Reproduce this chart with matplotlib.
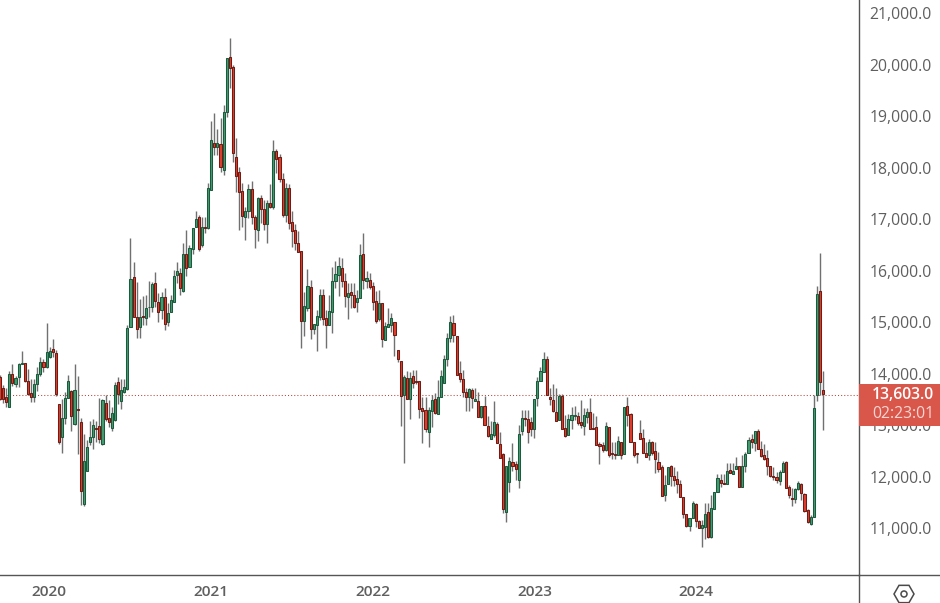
import numpy as np
import matplotlib
matplotlib.use('Agg')
from matplotlib import pyplot as plt
from matplotlib.patches import Rectangle, RegularPolygon, Circle
from matplotlib.transforms import offset_copy

opens = [13932,13718,13544,13363,13990,13796,13945,14190,14203,13854,
         13634,13557,13796,14003,14223,14139,14320,14475,14397,13408,
         12780,13136,13537,13660,13020,13317,13059,11481,12121,12684,
         12780,12949,12981,12645,13427,13136,12955,13097,13835,13479,
         13641,13699,14915,15885,15109,14902,15115,15076,15290,15303,
         15755,15387,15238,15484,15012,15206,15400,15910,15949,15613,
         16318,16079,16415,16842,17036,16505,16842,16822,17572,18484,
         18394,18465,17947,19086,20140,19946,18213,17922,17553,17036,
         17165,17579,17036,16783,17404,17191,16900,17307,17230,18316,
         18200,17786,17087,17598,16939,16783,16531,16376,15018,15283,
         15678,14863,14940,15109,15522,15076,14953,15206,15807,15923,
         16046,15807,15484,15581,15522,15400,15477,16318,15807,15826,
         15697,15406,15057,15367,14662,14902,14953,14999,14455,14242,
         13595,13919,13505,13951,13854,13854,13330,13291,12878,13285,
         13505,13227,13544,13828,14294,14688,14979,14727,14009,13893,
         13641,13544,13679,13479,13466,13156,13376,12981,12735,12813,
         13020,12645,12438,11325,11907,12283,12244,11933,12897,13149,
         13130,13072,12923,13524,13854,14029,14281,13557,13498,13266,
         13104,13563,12942,12813,13098,13190,13175,13059,12994,13156,
         13253,12942,12962,12632,12612,12522,12962,12457,12451,12431,
         12671,12451,13369,13214,12671,12457,12845,12748,12470,12425,
         12671,12496,12283,12186,11642,11856,12205,12011,11953,11856,
         11604,11274,11041,11196,11468,11151,11015,11035,11313,10828,
         11371,11714,11933,11882,11869,12127,12063,12147,12212,11811,
         12205,12457,12729,12651,12884,12535,12418,12360,12205,12018,
         12005,11927,12102,12283,11811,11584,11578,11759,11869,11675,
         11351,11093,11216,13590,15607,13680]

closes = [13505,13505,13460,13990,13815,13912,14184,14203,13867,13602,
          13557,13796,13990,14223,14139,14417,14436,14417,13615,12684,
          13136,13531,13854,13188,13680,13305,11733,12302,12574,12768,
          13000,12936,12742,13485,13130,13059,13233,13776,13615,13680,
          13751,14882,15833,15109,14876,15109,15109,15270,15296,15742,
          15419,15193,15484,14973,15173,15426,15891,15988,15671,16318,
          16059,16434,16822,16997,16428,16855,16835,17598,18529,18394,
          18484,18018,19073,20120,19926,18277,17844,17521,17068,17165,
          17579,17036,16816,17404,17191,16900,17307,17243,18316,18174,
          17773,17087,17598,16919,16777,16531,16370,15031,15309,15697,
          14876,14960,15115,15522,15057,14953,15212,15801,15930,16085,
          15807,15503,15561,15522,15303,15464,16298,15826,15852,15678,
          15400,15031,15367,14669,14921,14960,15076,14759,14281,13563,
          13932,13505,13925,13828,13847,13324,13285,12929,13291,13492,
          13246,13544,13951,14281,14688,14999,14759,13983,13906,13654,
          13544,13699,13524,13505,13169,13376,13013,12787,12826,13059,
          12664,12373,11371,12212,12302,12218,12147,12826,13136,13117,
          12865,12923,13505,13854,14048,14281,13583,13505,13285,13091,
          13576,12936,12800,13117,13194,13194,13052,13013,13194,13253,
          12936,12936,12625,12606,12528,12981,12431,12438,12431,12690,
          12431,13356,13207,12684,12431,12451,12742,12470,12392,12671,
          12457,12341,12147,11623,11843,12186,12018,11933,11869,11604,
          11274,11041,11196,11487,11138,11002,11060,11274,10828,11390,
          11701,11972,11888,11869,12108,12082,12108,12212,11811,12212,
          12444,12709,12671,12884,12535,12399,12341,12218,12011,12005,
          11946,12089,12263,11791,11655,11578,11759,11875,11681,11332,
          11119,11216,13331,15542,13847,13603]

highs = [13980,13783,13718,14060,14200,13958,14203,14443,14203,14093,
         13900,13900,14139,14333,14287,14992,14520,14675,14462,13408,
         13511,13654,13977,13686,14190,13958,13149,12826,12716,13085,
         13123,13085,13531,13505,13589,13492,13350,13835,13932,13900,
         13900,14940,16641,16169,15781,15458,15510,15529,15800,15788,
         15975,15561,15594,15658,15367,15529,16014,16169,16046,16544,
         16790,16499,16822,17158,17081,17036,17036,17695,18905,19053,
         18749,18963,19215,20120,20508,19991,18568,18006,17695,17230,
         17682,17741,17081,17437,17469,17372,17372,17682,18536,18361,
         18264,17889,17695,17682,17159,16900,16770,16389,15581,16027,
         15820,14960,15238,15639,15639,15238,15529,16079,16195,16260,
         16240,15962,15768,15755,15755,15626,16518,16725,15995,15962,
         15788,15613,15626,15380,15012,15270,15173,15012,14462,14242,
         13977,14061,14042,14074,14074,13854,13544,13557,13363,13589,
         13621,13880,14074,14365,14785,15122,15141,14733,14255,14074,
         13718,13725,13718,13718,13641,13376,13570,13182,13091,13473,
         13072,12878,12457,12212,12380,12664,12308,13007,13298,13298,
         13298,13156,13505,13945,14139,14417,14346,13718,13796,13718,
         13608,13602,13201,13220,13363,13382,13266,13492,13330,13330,
         13524,13233,13182,12684,12684,13059,12962,12684,12684,12794,
         12671,13356,13557,13233,12684,12457,13104,12929,12684,12729,
         12696,12684,12483,12231,12037,12186,12231,12199,12114,11940,
         11617,11274,11196,11532,11487,11164,11164,11487,11500,11649,
         11701,12056,12050,12050,12270,12270,12263,12392,12212,12425,
         12490,12781,12832,12884,12923,12703,12638,12522,12205,12199,
         12102,12134,12315,12315,11843,11778,11778,11920,11875,11681,
         11371,11261,13589,15700,16338,14055]

lows = [13490,13440,13350,13363,13764,13738,13751,14190,13841,13589,
        13460,13460,13673,13958,14042,14106,14300,14320,13570,12640,
        12470,13026,13524,12897,13007,12444,11448,11435,12121,12619,
        12548,12684,12651,12625,13091,12975,12897,13091,13414,13324,
        13621,13686,14915,15109,14695,14695,14940,14947,15109,15206,
        15303,15012,15057,14850,14927,15206,15400,15755,15529,15594,
        15897,16079,16324,16842,16389,16466,16725,16809,17566,18245,
        18245,17922,17857,18989,19551,18116,17534,16790,16855,16596,
        17016,16906,16447,16583,16932,16790,16544,17210,17204,17889,
        17728,17049,16951,16809,16466,16402,16357,14507,14733,15225,
        14682,14766,14449,15044,14947,14507,14953,14798,15671,15510,
        15691,15303,15063,15270,15270,15206,15477,15639,15658,15639,
        15238,14979,15031,14527,14662,14902,14818,14345,14236,12994,
        12263,13505,13130,13718,13802,13136,12664,12878,12586,12975,
        13214,13227,13544,13828,14152,14624,14624,13983,13847,13557,
        13278,13278,13330,13479,13156,13136,13000,12768,12735,12781,
        12651,12360,11306,11118,11714,12121,11940,11778,12813,12994,
        12664,12793,12761,13382,13854,14029,13583,13395,13266,13091,
        13104,12936,12781,12813,12923,13104,13007,12942,12813,13039,
        12936,12936,12625,12250,12490,12509,12392,12340,12340,12431,
        12347,12451,12988,12684,12392,12276,12742,12457,12392,12328,
        12425,12082,12102,11623,11539,11856,11824,11824,11681,11604,
        11196,11035,10957,11196,11035,11002,10634,10795,10810,10810,
        11371,11714,11810,11869,11869,12082,12063,12147,11811,11811,
        12102,12457,12554,12509,12535,12380,12328,12037,11992,11940,
        11875,11843,12089,11778,11597,11436,11487,11746,11552,11325,
        11099,11060,11216,13473,13589,12910]

years = ['2020', '2021', '2022', '2023', '2024']
year_pos = [15.8, 67.9, 120.1, 172.2, 224.1]   # candle index where the label sits
price_ticks = list(range(11000, 22000, 1000))
last_price = 13603.0
countdown = '02:23:01'

W, H = 940, 603
AX_W, AX_H = 859, 575
GREY = '#5f5f5f'

o = np.array(opens)
c = np.array(closes)
hi = np.array(highs)
lo = np.array(lows)
x = np.arange(len(o))
up = c >= o

fig = plt.figure(figsize=(W / 100, H / 100), dpi=100, facecolor='white')
ax = fig.add_axes([0, (H - AX_H) / H, AX_W / W, AX_H / H])

# wicks first, bodies on top
ax.vlines(x, lo, hi, colors='#707070', lw=1.0, zorder=2)
ax.bar(x[up], (c - o)[up], bottom=o[up], width=0.68, color='#459c70',
       edgecolor='#1d5a3d', linewidth=0.75, zorder=3)
ax.bar(x[~up], (o - c)[~up], bottom=c[~up], width=0.68, color='#e23c2b',
       edgecolor='#6b1d16', linewidth=0.75, zorder=3)

# price line, one pixel under the value like the reference
ax.plot([0, AX_W / 3.106], [last_price, last_price],
        transform=offset_copy(ax.transData, fig=fig, y=-0.72, units='points'),
        color='#b5483a', ls=(0, (1, 2)), lw=0.75, zorder=1)

ax.set_xlim(0, AX_W / 3.106)
ax.set_ylim(21252 - 19.4 * AX_H, 21252)

ax.yaxis.tick_right()
ax.set_yticks(price_ticks)
ax.set_yticklabels(['{:,.1f}'.format(p) for p in price_ticks],
                   family='Open Sans', fontsize=11.3, color=GREY)
ax.tick_params(axis='y', length=0, pad=7.5)
ax.set_xticks(year_pos)
ax.set_xticklabels(years, family='Open Sans', fontsize=11.1, color=GREY,
                   fontweight='semibold')
ax.tick_params(axis='x', length=0, pad=7)

for s in ['left', 'top']:
    ax.spines[s].set_visible(False)
for s in ['right', 'bottom']:
    ax.spines[s].set_color('#555555')
    ax.spines[s].set_linewidth(1.0)
# bottom rule and axis rule run on to the edges of the picture
fig.add_artist(plt.Line2D([AX_W / W, 1], [(H - AX_H) / H] * 2, color='#555555', lw=1.0))
fig.add_artist(plt.Line2D([AX_W / W] * 2, [0, (H - AX_H) / H], color='#555555', lw=1.0))

# price tag sits over the 13,000.0 label
fig.add_artist(Rectangle((AX_W / W, (H - 426) / H), (W - AX_W) / W, 42 / H,
                         transform=fig.transFigure, color='#d9574a', lw=0, zorder=5))
fig.text(934 / W, (H - 395) / H, '{:,.1f}'.format(last_price), ha='right', va='center',
         family='Open Sans', fontsize=11.3, color='white', fontweight='semibold', zorder=6)
fig.text(934 / W, (H - 414) / H, countdown, ha='right', va='center',
         family='Open Sans', fontsize=11.3, color='#f6d6d2', zorder=6)

# settings icon bottom right
icon = fig.add_axes([0, 0, 1, 1], frameon=False, zorder=7)
icon.set_xlim(0, W)
icon.set_ylim(H, 0)
icon.axis('off')
icon.add_patch(RegularPolygon((904, 594), 6, radius=10, orientation=np.pi / 6,
                              fill=False, edgecolor='#4a4a4a', lw=1.1))
icon.add_patch(Circle((904, 594), 3, fill=False, edgecolor='#4a4a4a', lw=1.1))

fig.savefig('out.png', dpi=100)
